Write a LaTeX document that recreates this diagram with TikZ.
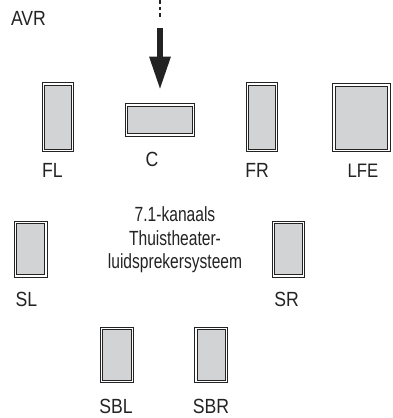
\documentclass[tikz,border=0pt]{standalone}
\usepackage{fontspec}
\setmainfont[FakeStretch=0.86]{Liberation Sans}
\newfontfamily\titlefont[FakeStretch=0.76]{Liberation Sans}
\usetikzlibrary{arrows.meta,calc}
\definecolor{spkgray}{HTML}{D2D3D5}
\definecolor{ink}{HTML}{232323}
\tikzset{
  spk/.style={draw=ink, double=white, double distance=1.3pt, line width=1pt,
    fill=spkgray, inner sep=0pt, outer sep=0pt},
  lbl/.style={text=ink, font=\fontsize{20.5}{24}\selectfont, inner sep=0pt, anchor=center},
}
\begin{document}
\begin{tikzpicture}[x=1pt,y=-1pt]
\useasboundingbox (0,0) rectangle (392,418);
% speakers (centres, sizes given between path centres of the double border)
\node[spk, minimum width=29.3pt, minimum height=66.7pt] (FL)  at (58,117.3) {};
\node[spk, minimum width=66.7pt, minimum height=30.1pt] (C)   at (160,120) {};
\node[spk, minimum width=29.3pt, minimum height=66.7pt] (FR)  at (262,117.3) {};
\node[spk, minimum width=55pt, minimum height=65.7pt] (LFE) at (361.5,117.8) {};
\node[spk, minimum width=30.4pt, minimum height=53.5pt] (SL)  at (30.9,249.3) {};
\node[spk, minimum width=30.1pt, minimum height=53.5pt] (SR)  at (288.3,249.3) {};
\node[spk, minimum width=30.7pt, minimum height=53.5pt] (SBL) at (117,355) {};
\node[spk, minimum width=30.7pt, minimum height=53.5pt] (SBR) at (211.3,355) {};
% labels
\node[lbl] (avr) at (28.5,18.5) {AVR};
\node[lbl] (lFL) at (52.5,170.5) {FL};
\node[lbl] (lC) at (152,159.5) {C};
\node[lbl] (lFR) at (257,170.5) {FR};
\node[lbl, font=\fontsize{19.5}{24}\selectfont] (lLFE) at (363,170.5) {LFE};
\node[lbl] (lSL) at (26.5,299.5) {SL};
\node[lbl] (lSR) at (286.5,299.5) {SR};
\node[lbl] (lSBL) at (116,406.5) {SBL};
\node[lbl] (lSBR) at (211,406.5) {SBR};
\node[lbl, align=center, font=\titlefont\fontsize{20.5}{23.5}\selectfont] (title) at (175,240)
  {7.1-kanaals\\Thuistheater-\\luidsprekersysteem};
% signal arrow
\coordinate (top) at (160,0);
\coordinate (dotend) at (160,17);
\coordinate (shaft) at (160,28);
\coordinate (tip) at ($(C.north)+(0,-15.3)$);
\draw[ink, line width=1.8pt, dash pattern=on 3.5pt off 3pt] (top) -- (dotend);
\draw[ink, line width=6pt, -{Triangle[length=33pt,width=20pt]}] (shaft) -- (tip);
\end{tikzpicture}
\end{document}
